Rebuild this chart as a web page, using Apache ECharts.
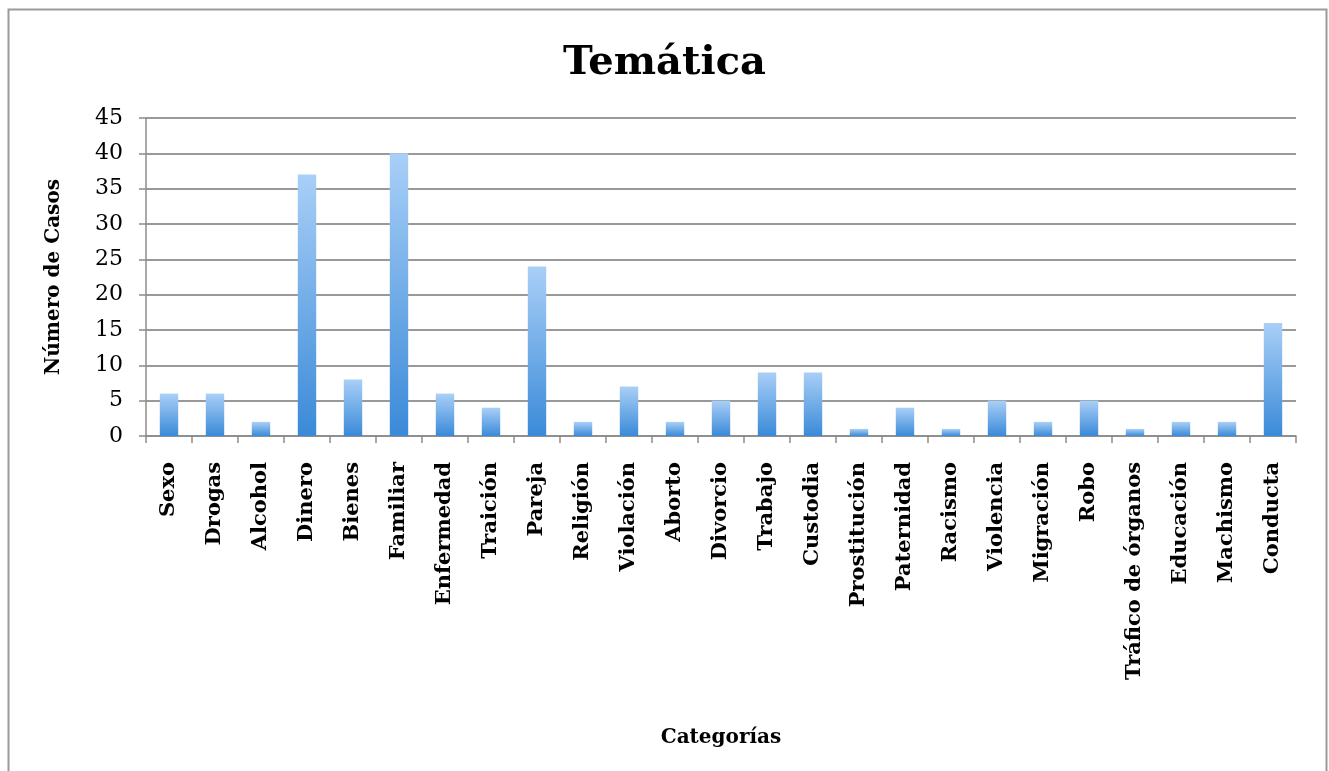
<!DOCTYPE html>
<html>
<head>
<meta charset="utf-8">
<script src="https://cdn.jsdelivr.net/npm/echarts@6/dist/echarts.min.js"></script>
<style>
html,body{margin:0;padding:0;background:#fff;}
#chart{width:1329px;height:771px;}
</style>
</head>
<body>
<div id="chart"></div>
<script>
const categories = ['Sexo','Drogas','Alcohol','Dinero','Bienes','Familiar','Enfermedad','Traición','Pareja','Religión','Violación','Aborto','Divorcio','Trabajo','Custodia','Prostitución','Paternidad','Racismo','Violencia','Migración','Robo','Tráfico de órganos','Educación','Machismo','Conducta'];
const casos = [6,6,2,37,8,40,6,4,24,2,7,2,5,9,9,1,4,1,5,2,5,1,2,2,16];
const titleText = 'Temática';
const yName = 'Número de Casos';
const xName = 'Categorías';

const font = 'DejaVu Serif';
const chart = echarts.init(document.getElementById('chart'));
chart.setOption({
  backgroundColor: '#fff',
  animation: false,
  title: {
    text: titleText, left: 'center', top: 39,
    textStyle: {fontFamily: font, fontWeight: 'bold', fontSize: 40, color: '#000'}
  },
  graphic: [{
    type: 'rect', left: 6, top: 7, z: 100,
    shape: {width: 1318, height: 780},
    style: {fill: 'none', stroke: '#9a9a9a', lineWidth: 2}
  }],
  grid: {left: 146, right: 33, top: 118, bottom: 335},
  xAxis: {
    type: 'category', data: categories,
    name: xName, nameLocation: 'middle', nameGap: 292,
    nameTextStyle: {fontFamily: font, fontWeight: 'bold', fontSize: 20, color: '#000'},
    axisLine: {lineStyle: {color: '#8c8c8c', width: 1.5}},
    axisTick: {show: true, length: 7, lineStyle: {color: '#8c8c8c', width: 1.5}},
    axisLabel: {rotate: 90, interval: 0, margin: 26, fontFamily: font, fontWeight: 'bold', fontSize: 21, color: '#000'}
  },
  yAxis: {
    type: 'value', min: 0, max: 45, interval: 5,
    name: yName, nameLocation: 'middle', nameGap: 82,
    nameTextStyle: {fontFamily: font, fontWeight: 'bold', fontSize: 20, color: '#000'},
    axisLine: {show: true, lineStyle: {color: '#8c8c8c', width: 1.5}},
    axisTick: {show: true, length: 7, lineStyle: {color: '#8c8c8c', width: 1.5}},
    axisLabel: {fontFamily: font, fontSize: 22, color: '#000', margin: 23},
    splitLine: {lineStyle: {color: '#999', width: 2}}
  },
  series: [{
    type: 'bar', data: casos, barWidth: '40%',
    itemStyle: {
      color: new echarts.graphic.LinearGradient(0, 0, 0, 1, [
        {offset: 0, color: '#a9cff7'},
        {offset: 1, color: '#3a8ad8'}
      ])
    }
  }]
});
</script>
</body>
</html>
